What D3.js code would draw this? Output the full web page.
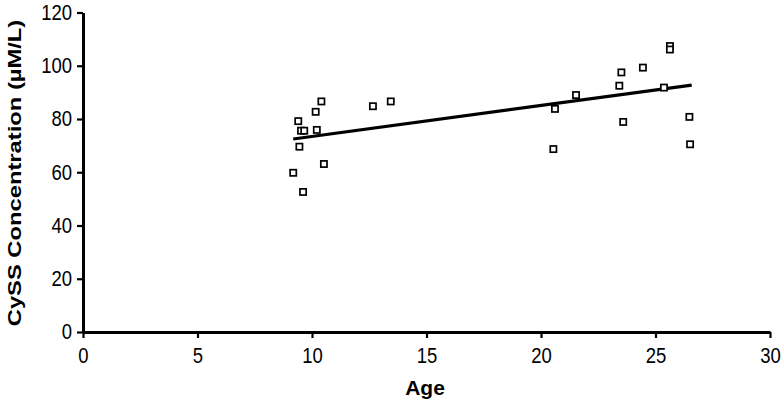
<!DOCTYPE html>
<html>
<head>
<meta charset="utf-8">
<script src="https://cdn.jsdelivr.net/npm/d3@7"></script>
<style>
  html, body { margin: 0; padding: 0; background: #fff; }
  svg { display: block; }
  text { font-family: "Liberation Sans", Arial, Helvetica, sans-serif; fill: #000; }
</style>
</head>
<body>
<svg id="chart" width="781" height="402"></svg>
<script>
// Data
const ages = [9.18, 9.40, 9.45, 9.52, 9.66, 9.61, 10.16, 10.21, 10.41, 10.52,
              12.66, 13.44, 20.54, 20.61, 21.53, 23.42, 23.51, 23.59, 24.45,
              25.37, 25.63, 25.63, 26.48, 26.51];
const concentrations = [59.8, 79.2, 69.6, 75.6, 75.6, 52.6, 82.7, 75.9, 86.6, 63.1,
                        84.8, 86.6, 68.7, 83.8, 89.0, 92.5, 97.5, 78.9, 99.3,
                        91.8, 107.4, 106.1, 80.8, 70.5];
const trendAges = [9.18, 26.58];
const trendValues = [72.5, 92.7];
const xTicks = [0, 5, 10, 15, 20, 25, 30];
const yTicks = [0, 20, 40, 60, 80, 100, 120];
const xTitle = "Age";
const yTitle = "CySS Concentration (µM/L)";

const svg = d3.select("#chart");
const W = 781, H = 402;
const m = { left: 83, right: 11, top: 12.5, bottom: 70 };

const x = d3.scaleLinear().domain([0, 30]).range([m.left, W - m.right]);
const y = d3.scaleLinear().domain([0, 120]).range([H - m.bottom, m.top]);

// axes
const xAxis = d3.axisBottom(x).tickValues(xTicks).tickSize(6).tickSizeOuter(0);
const yAxis = d3.axisLeft(y).tickValues(yTicks).tickSize(6).tickSizeOuter(0);

const gx = svg.append("g").attr("transform", `translate(0,${y(0)})`).call(xAxis);
const gy = svg.append("g").attr("transform", `translate(${x(0)},0)`).call(yAxis);

[gx, gy].forEach(g => {
  g.select(".domain").attr("stroke", "#000").attr("stroke-width", 3);
  g.selectAll(".tick line").attr("stroke", "#000").attr("stroke-width", 2.2);
  g.selectAll(".tick text")
    .attr("font-size", 18.5)
    .attr("font-family", "\"Liberation Sans\", Arial, sans-serif")
    .attr("fill", "#000");
});
gx.selectAll(".tick text")
  .attr("y", null).attr("dy", null)
  .attr("transform", "translate(0,31) scale(1,1.15)");
gy.selectAll(".tick text")
  .attr("x", null).attr("dy", "0.32em")
  .attr("transform", "translate(-11,0) scale(1,1.15)");

// trend line
svg.append("line")
  .attr("x1", x(trendAges[0])).attr("y1", y(trendValues[0]))
  .attr("x2", x(trendAges[1])).attr("y2", y(trendValues[1]))
  .attr("stroke", "#000").attr("stroke-width", 3.2);

// points
const s = 6.2;
svg.append("g").selectAll("rect")
  .data(ages.map((a, i) => [a, concentrations[i]]))
  .join("rect")
  .attr("x", d => x(d[0]) - s / 2)
  .attr("y", d => y(d[1]) - s / 2)
  .attr("width", s).attr("height", s)
  .attr("fill", "#fff")
  .attr("stroke", "#000").attr("stroke-width", 1.7);

// titles
svg.append("text")
  .attr("x", 425).attr("y", 395)
  .attr("text-anchor", "middle")
  .attr("font-size", 21).attr("font-weight", "bold")
  .text(xTitle);

svg.append("text")
  .attr("transform", `translate(21,173) rotate(-90) scale(1.25,1)`)
  .attr("text-anchor", "middle")
  .attr("font-size", 19).attr("font-weight", "bold")
  .text(yTitle);
</script>
</body>
</html>
